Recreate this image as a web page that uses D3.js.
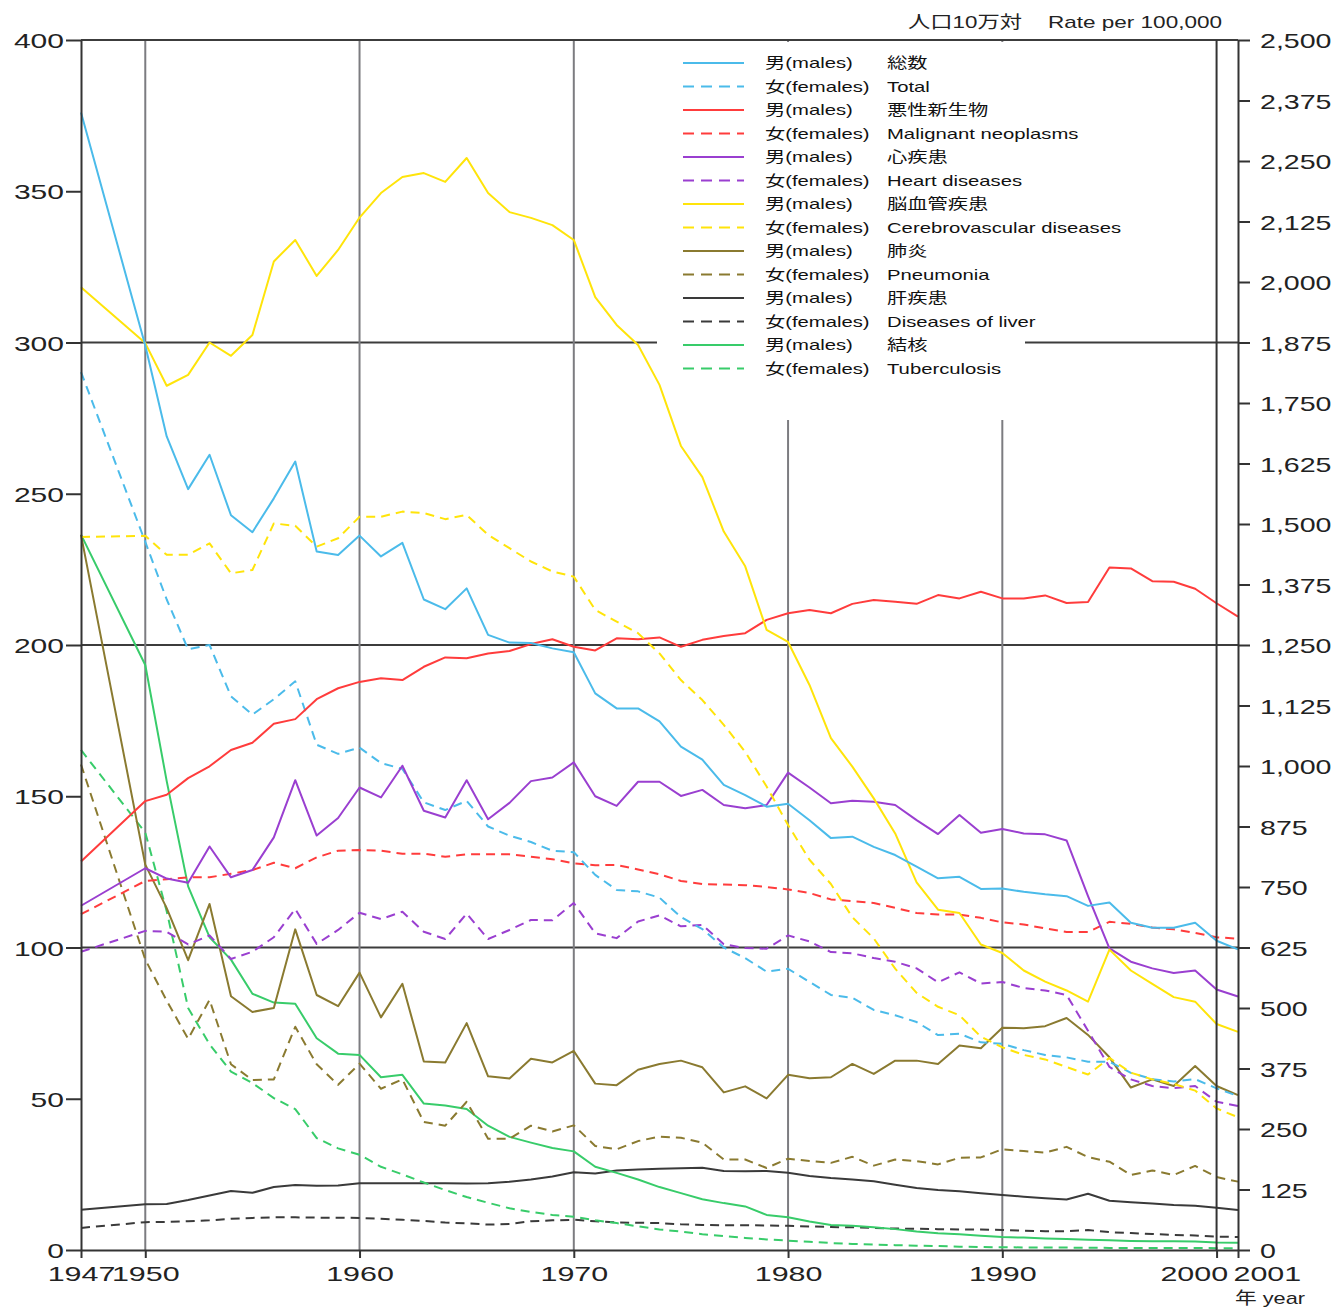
<!DOCTYPE html>
<html>
<head>
<meta charset="utf-8">
<script src="https://cdn.jsdelivr.net/npm/d3@7"></script>
<style>
  body { margin: 0; background: #fff; }
  svg { display: block; }
  text { font-family: "Liberation Sans", Arial, "Noto Sans CJK JP", sans-serif; }
</style>
</head>
<body>
<svg id="chart" width="1338" height="1307"></svg>
<script>
// Years with data (no values for 1948-1949)
const years = [1947,
  1950,1951,1952,1953,1954,1955,1956,1957,1958,1959,
  1960,1961,1962,1963,1964,1965,1966,1967,1968,1969,
  1970,1971,1972,1973,1974,1975,1976,1977,1978,1979,
  1980,1981,1982,1983,1984,1985,1986,1987,1988,1989,
  1990,1991,1992,1993,1994,1995,1996,1997,1998,1999,
  2000,2001];

// All causes (right-hand scale, per 100,000)
const totalMales = [2350,
  1869,1681,1572,1643,1518,1483,1553,1629,1443,1436,
  1476,1433,1461,1344,1324,1367,1271,1255,1254,1243,
  1235,1150,1119,1119,1092,1040,1013,961,940,916,
  922,888,851,854,833,816,792,768,771,746,
  747,740,735,731,711,718,676,666,666,676,
  639,621];
const totalFemales = [1814,
  1463,1344,1241,1250,1144,1106,1138,1175,1044,1025,
  1038,1006,994,925,909,928,875,856,843,825,
  822,775,744,741,728,688,663,625,603,575,
  581,554,527,521,496,485,471,444,447,429,
  426,413,403,398,389,389,366,353,348,353,
  334,318];

// Cause-specific rates (left-hand scale, per 100,000)
const cancerMales = [128.4,
  148.4,150.5,156,159.9,165.3,167.7,174,175.5,182.1,185.7,
  187.8,189,188.4,192.8,195.9,195.6,197.2,198,200.3,201.9,
  199.4,198.2,202.2,201.9,202.5,199.4,201.7,203,203.9,208.3,
  210.5,211.6,210.5,213.6,214.9,214.3,213.6,216.5,215.4,217.6,
  215.4,215.4,216.4,213.9,214.2,225.6,225.3,221.1,220.9,218.6,
  213.8,209.4];
const cancerFemales = [111,
  122,122.6,123.2,123.2,124.4,125.6,128,126.2,129.8,132,
  132.2,132,131,131,130,130.8,130.8,130.8,130,129.2,
  127.8,127.2,127.3,125.8,124.2,122,121,120.8,120.6,120,
  119.2,118,115.9,115.3,114.7,113.1,111.4,110.9,110.9,109.8,
  108.3,107.6,106.3,105.1,105.1,108.5,107.8,106.6,106,104.8,
  103.4,102.9];
const heartMales = [113.8,
  126.2,122.8,121.4,133.4,123.2,125.6,136.4,155.3,137,142.8,
  152.9,149.6,160.1,145.2,143,155.3,142.4,147.8,155,156.2,
  161.2,150,146.8,154.8,154.8,150.1,152.1,147.1,146,147.1,
  157.8,152.9,147.7,148.5,148.2,147.1,142.1,137.5,143.8,137.9,
  139.2,137.7,137.4,135.4,117,99.7,95.3,93.1,91.6,92.4,
  86.1,83.8];
const heartFemales = [98.6,
  105.5,105.2,101,104,96.2,98.6,103.4,112.7,101.2,105.8,
  111.5,109.4,111.8,105.2,102.8,111.2,102.8,105.8,109.1,109,
  114.7,104.7,103.1,108.6,110.6,107,107.5,101.1,99.8,99.6,
  104,102,98.5,98.1,96.5,95.3,93.1,88.5,91.8,88.1,
  88.6,86.6,85.8,84.3,72.5,60.5,56.4,54.2,53.5,54.2,
  49,47.6];
const cvdMales = [318.3,
  299.8,285.7,289.3,300,295.6,302.5,326.8,333.9,322,330.6,
  341.3,349.4,354.7,356,353.1,361,349.4,343.1,341.2,338.8,
  333.9,315,305.8,299.2,286,265.8,255.5,237.5,226,205,
  201,186.8,169.2,159.8,149.3,137.7,121.5,112.5,111.4,101,
  98.2,92.4,88.7,85.8,82.1,99.3,92.4,88,83.6,82.1,
  74.7,72.1];
const cvdFemales = [235.7,
  236.1,229.8,229.8,233.6,223.7,224.8,240.2,239.4,232.5,235.3,
  242.4,242.4,244.1,243.6,241.6,243,236.4,232,227.6,224.3,
  222.6,211.6,207.7,203.9,197.2,188.4,181.8,173.6,164.7,153.2,
  140.5,129,121,110,103,93,85,80.4,77.6,70.5,
  67,64.5,63,60.5,58,63.5,58.6,56.4,54.9,52.7,
  46.8,43.9];
const pneumoniaMales = [236.4,
  127.4,113,95.8,114.4,83.9,78.7,80,106,84.3,80.6,
  91.7,76.9,88,62.3,62,75,57.4,56.7,63.2,62,
  65.8,55,54.5,59.6,61.5,62.6,60.4,52.1,54.1,50.1,
  57.9,56.8,57.1,61.5,58.2,62.6,62.6,61.5,67.6,66.7,
  73.5,73.3,74,76.7,71.1,63.7,53.7,56.4,54.2,60.8,
  54.2,51.2];
const pneumoniaFemales = [160.5,
  96,82.4,69.8,82.7,61.4,56.2,56.4,73.8,61.4,54.6,
  61.6,53.3,56.4,42.3,41.1,49,36.8,36.8,41.1,39.2,
  41.2,34.4,33.3,36,37.5,37.1,35.5,29.9,29.9,27.1,
  30.2,29.4,28.8,30.8,27.9,29.9,29.4,28.3,30.5,30.6,
  33.3,32.7,32.2,34.1,30.7,29.2,24.8,26.3,24.8,27.8,
  24.1,22.6];
const liverMales = [13.3,
  15.1,15.2,16.5,18,19.5,18.9,20.8,21.5,21.2,21.3,
  22.1,22.1,22.1,22.1,22.1,22,22.1,22.6,23.3,24.3,
  25.7,25.3,26.3,26.6,26.9,27,27.2,26.1,26,26.1,
  25.5,24.5,23.8,23.3,22.7,21.6,20.5,19.8,19.4,18.8,
  18.2,17.6,17.1,16.7,18.6,16.3,15.8,15.4,14.9,14.6,
  14,13.2];
const liverFemales = [7.3,
  9.2,9.3,9.5,9.8,10.3,10.6,10.8,10.8,10.7,10.7,
  10.6,10.3,10,9.6,9.1,8.8,8.4,8.6,9.5,9.8,
  10,9.5,9.1,9,8.9,8.5,8.3,8.2,8.2,8.1,
  8,7.8,7.6,7.5,7.3,7.1,7,6.9,6.8,6.8,
  6.6,6.4,6.2,6.2,6.6,5.9,5.6,5.3,5,4.8,
  4.4,4.3];
const tbMales = [236.5,
  193.4,155,120.2,103.4,96,84.7,81.8,81.4,70,64.9,
  64.5,57.1,57.9,48.4,47.8,46.6,41.1,37.4,35.5,33.7,
  32.6,27.5,25.5,23.3,20.8,18.8,16.8,15.5,14.4,11.6,
  10.8,9.4,8.3,8,7.5,6.9,6.1,5.5,5.2,4.7,
  4.3,4.1,3.8,3.6,3.4,3.2,3,2.9,2.9,2.8,
  2.5,2.4];
const tbFemales = [165.3,
  138,112,80,68,59,55.2,50.2,46.6,37,33.6,
  31.5,27.5,25,22.3,19.8,17.5,15.6,13.8,12.6,11.6,
  11,9.8,8.9,7.8,6.8,6.1,5.2,4.6,4,3.5,
  3.1,2.7,2.3,2,1.8,1.6,1.4,1.3,1.1,1,
  0.9,0.85,0.8,0.8,0.75,0.7,0.7,0.7,0.7,0.7,
  0.6,0.6];

// Axis tick values and labels
const leftTicks = [0,50,100,150,200,250,300,350,400];
const rightTicks = [0,125,250,375,500,625,750,875,1000,1125,1250,1375,1500,1625,1750,1875,2000,2125,2250,2375,2500];
const yearTicks = [1947,1950,1960,1970,1980,1990,2000,2001];
const gridRates = [100,200,300];
const gridYears = [1950,1960,1970,1980,1990];
const maleTag = "男(males)";
const femaleTag = "女(females)";
const causeNamesJa = ["総数","悪性新生物","心疾患","脳血管疾患","肺炎","肝疾患","結核"];
const causeNamesEn = ["Total","Malignant neoplasms","Heart diseases","Cerebrovascular diseases","Pneumonia","Diseases of liver","Tuberculosis"];
const causeColors = ["#4bbbea","#ff3c3c","#9a3fd0","#ffe40a","#8a7a30","#3a3a3a","#38cc6a"];
const unitJa = "人口10万対";
const unitEn = "Rate per 100,000";
const yearLabel = "年 year";

const series = [
  { values: totalMales,       cause: 0, female: false, axis: "right" },
  { values: totalFemales,     cause: 0, female: true,  axis: "right" },
  { values: cancerMales,      cause: 1, female: false, axis: "left" },
  { values: cancerFemales,    cause: 1, female: true,  axis: "left" },
  { values: heartMales,       cause: 2, female: false, axis: "left" },
  { values: heartFemales,     cause: 2, female: true,  axis: "left" },
  { values: cvdMales,         cause: 3, female: false, axis: "left" },
  { values: cvdFemales,       cause: 3, female: true,  axis: "left" },
  { values: pneumoniaMales,   cause: 4, female: false, axis: "left" },
  { values: pneumoniaFemales, cause: 4, female: true,  axis: "left" },
  { values: liverMales,       cause: 5, female: false, axis: "left" },
  { values: liverFemales,     cause: 5, female: true,  axis: "left" },
  { values: tbMales,          cause: 6, female: false, axis: "left" },
  { values: tbFemales,        cause: 6, female: true,  axis: "left" }
];

const svg = d3.select("#chart");
const plot = { left: 81, right: 1238, top: 40, bottom: 1250 };

const x = d3.scaleLinear().domain([1947, 2001]).range([plot.left, plot.right]);
const yL = d3.scaleLinear().domain([0, 400]).range([plot.bottom, plot.top]);
const yR = d3.scaleLinear().domain([0, 2500]).range([plot.bottom, plot.top]);

// Widen glyphs horizontally, keeping each string's proportions
function stretch(sel, k) {
  sel.each(function () {
    const w = this.getComputedTextLength();
    d3.select(this).attr("textLength", (w * k).toFixed(1)).attr("lengthAdjust", "spacingAndGlyphs");
  });
}
function fitTo(sel, w) {
  sel.attr("textLength", w).attr("lengthAdjust", "spacingAndGlyphs");
}

// Grid
const grid = svg.append("g");
grid.selectAll("line.h").data(gridRates).join("line")
  .attr("x1", plot.left).attr("x2", plot.right)
  .attr("y1", d => yL(d)).attr("y2", d => yL(d))
  .attr("stroke", "#3c3c3c").attr("stroke-width", 2);
grid.selectAll("line.v").data(gridYears).join("line")
  .attr("x1", d => x(d)).attr("x2", d => x(d))
  .attr("y1", plot.top).attr("y2", plot.bottom)
  .attr("stroke", "#7c7c80").attr("stroke-width", 2);
grid.append("line")
  .attr("x1", plot.left).attr("x2", plot.right)
  .attr("y1", plot.top).attr("y2", plot.top)
  .attr("stroke", "#3c3c3c").attr("stroke-width", 2);

// Legend panel masks the grid behind it
svg.append("rect")
  .attr("x", 657).attr("y", 42).attr("width", 368).attr("height", 378)
  .attr("fill", "#fff");

// Series lines
const lineL = d3.line().x((d, i) => x(years[i])).y(d => yL(d));
const lineR = d3.line().x((d, i) => x(years[i])).y(d => yR(d));
const drawOrder = [11, 10, 13, 12, 9, 8, 5, 3, 1, 4, 2, 7, 6, 0];
svg.append("g").selectAll("path").data(drawOrder.map(i => series[i])).join("path")
  .attr("d", s => (s.axis === "right" ? lineR : lineL)(s.values))
  .attr("fill", "none")
  .attr("stroke", s => causeColors[s.cause])
  .attr("stroke-width", 2)
  .attr("stroke-linejoin", "round")
  .attr("stroke-dasharray", s => s.female ? "9,6" : null);

// Year 2000 marker line and frame
svg.append("line")
  .attr("x1", x(2000)).attr("x2", x(2000)).attr("y1", plot.top).attr("y2", plot.bottom)
  .attr("stroke", "#333", null).attr("stroke-width", 2);

// Axes
const axisStyle = g => {
  g.selectAll(".domain, .tick line").attr("stroke", "#333").attr("stroke-width", 2);
  g.selectAll("text").attr("fill", "#222").style("font-size", "21px");
};

const gLeft = svg.append("g").attr("transform", `translate(${plot.left},0)`)
  .call(d3.axisLeft(yL).tickValues(leftTicks).tickSize(15).tickSizeOuter(0).tickPadding(2).tickFormat(d3.format("d")))
  .call(axisStyle);
gLeft.selectAll("text").attr("dy", "0.36em");
stretch(gLeft.selectAll("text"), 1.43);

const gRight = svg.append("g").attr("transform", `translate(${plot.right},0)`)
  .call(d3.axisRight(yR).tickValues(rightTicks).tickSize(12).tickSizeOuter(0).tickPadding(10).tickFormat(d3.format(",")))
  .call(axisStyle);
gRight.selectAll("text").attr("dy", "0.36em");
stretch(gRight.selectAll("text"), 1.36);

const gBottom = svg.append("g").attr("transform", `translate(0,${plot.bottom})`)
  .call(d3.axisBottom(x).tickValues(yearTicks).tickSize(8).tickSizeOuter(0).tickPadding(8).tickFormat(d3.format("d")))
  .call(axisStyle);
gBottom.selectAll(".tick text")
  .attr("text-anchor", d => d === 2000 ? "end" : d === 2001 ? "start" : "middle")
  .attr("x", d => d === 2000 ? 11 : d === 2001 ? -5 : 0);
stretch(gBottom.selectAll("text"), 1.45);

// Unit captions
const cap = svg.append("g").attr("fill", "#222").style("font-size", "17px");
fitTo(cap.append("text").attr("x", 908).attr("y", 28).text(unitJa), 114);
fitTo(cap.append("text").attr("x", 1048).attr("y", 28).text(unitEn), 174);
fitTo(svg.append("text").attr("x", 1235).attr("y", 1304).attr("fill", "#222")
  .style("font-size", "17px").text(yearLabel), 70);

// Legend
const legend = svg.append("g");
const rowY = i => 63 + i * 23.5;
const rows = legend.selectAll("g").data(series).join("g")
  .attr("transform", (s, i) => `translate(0,${rowY(i)})`);
rows.append("line")
  .attr("x1", 683).attr("x2", 744).attr("y1", 0).attr("y2", 0)
  .attr("stroke", s => causeColors[s.cause]).attr("stroke-width", 2)
  .attr("stroke-dasharray", s => s.female ? "11,7" : null);
const tagText = rows.append("text")
  .attr("x", 765).attr("y", 5).attr("fill", "#111").style("font-size", "15px")
  .text(s => s.female ? femaleTag : maleTag);
stretch(tagText, 1.35);
const nameText = rows.append("text")
  .attr("x", 887).attr("y", 5).attr("fill", "#111").style("font-size", "15px")
  .text(s => s.female ? causeNamesEn[s.cause] : causeNamesJa[s.cause]);
stretch(nameText, 1.35);
</script>
</body>
</html>
